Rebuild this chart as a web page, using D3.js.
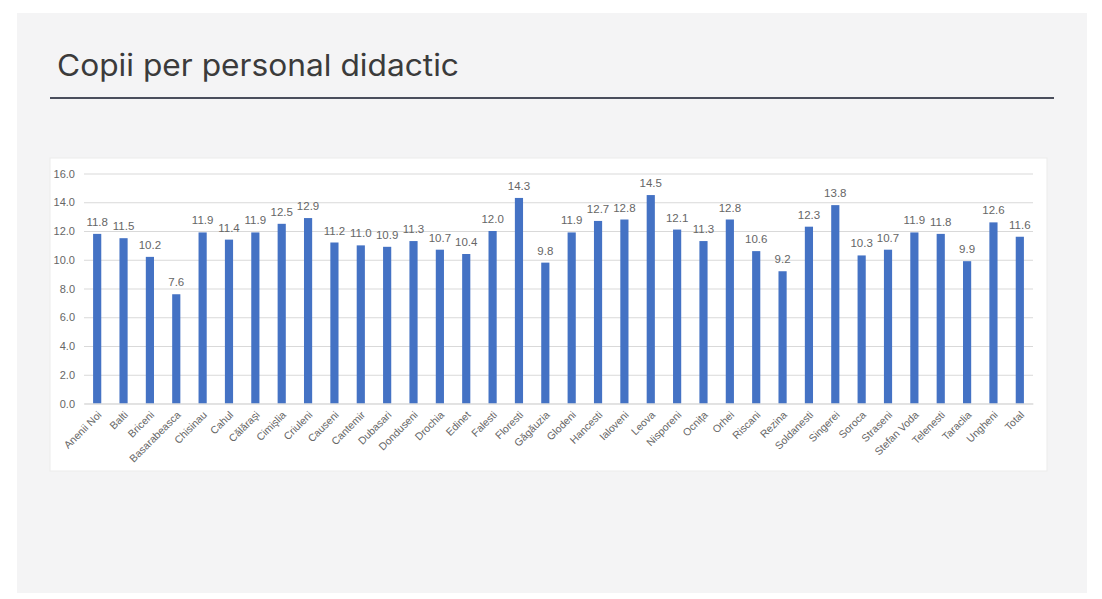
<!DOCTYPE html>
<html>
<head>
<meta charset="utf-8">
<script src="https://cdn.jsdelivr.net/npm/d3@7"></script>
<style>
  body { margin: 0; background: #ffffff; }
</style>
</head>
<body>
<div id="chart"></div>
<script>
var width = 1102;
var height = 599;

var districts = ["Anenii Noi", "Balti", "Briceni", "Basarabeasca", "Chisinau", "Cahul", "Călăraşi",
  "Cimişlia", "Criuleni", "Causeni", "Cantemir", "Dubasari", "Donduseni", "Drochia", "Edinet",
  "Falesti", "Floresti", "Găgăuzia", "Glodeni", "Hancesti", "Ialoveni", "Leova", "Nisporeni",
  "Ocnița", "Orhei", "Riscani", "Rezina", "Soldanesti", "Singerei", "Soroca", "Straseni",
  "Stefan Voda", "Telenesti", "Taraclia", "Ungheni", "Total"];

var ratios = [11.8, 11.5, 10.2, 7.6, 11.9, 11.4, 11.9, 12.5, 12.9, 11.2, 11.0, 10.9, 11.3, 10.7,
  10.4, 12.0, 14.3, 9.8, 11.9, 12.7, 12.8, 14.5, 12.1, 11.3, 12.8, 10.6, 9.2, 12.3, 13.8, 10.3,
  10.7, 11.9, 11.8, 9.9, 12.6, 11.6];

var yTicks = [0, 2, 4, 6, 8, 10, 12, 14, 16];

var title = "Copii per personal didactic";

var svg = d3.select("#chart")
  .append("svg")
  .attr("width", width)
  .attr("height", height);

// grey slide panel
svg.append("rect")
  .attr("x", 17).attr("y", 13)
  .attr("width", 1070).attr("height", 580)
  .attr("fill", "#f4f4f5");

svg.append("text")
  .attr("x", 57)
  .attr("y", 76)
  .text(title)
  .attr("fill", "#3b3b3b")
  .attr("textLength", 402)
  .attr("lengthAdjust", "spacingAndGlyphs")
  .style("font-family", "Inter, 'Open Sans', sans-serif")
  .style("font-size", "30px");

svg.append("line")
  .attr("x1", 50).attr("x2", 1054)
  .attr("y1", 98).attr("y2", 98)
  .attr("stroke", "#4a4e5c")
  .attr("stroke-width", 2);

// white chart image
svg.append("rect")
  .attr("x", 50).attr("y", 158)
  .attr("width", 997).attr("height", 313)
  .attr("fill", "#ffffff")
  .attr("stroke", "#ebebeb")
  .attr("stroke-width", 1);

var x = d3.scaleBand()
  .domain(districts)
  .range([84, 1033])
  .paddingInner(0.69)
  .paddingOuter(0.345);

var y = d3.scaleLinear()
  .domain([0, 16])
  .range([403.5, 173.5]);

var chartFont = "'Liberation Sans', Arial, sans-serif";
var labelGrey = "#666666";

// gridlines + y labels
var yAxis = svg.append("g")
  .attr("transform", "translate(84,0)")
  .call(d3.axisLeft(y).tickValues(yTicks).tickSize(-949).tickFormat(d3.format(".1f")).tickPadding(9));
yAxis.select(".domain").remove();
yAxis.selectAll(".tick line").attr("stroke", "#d9d9d9").attr("stroke-width", 1);
yAxis.selectAll(".tick text")
  .attr("fill", labelGrey)
  .style("font-family", chartFont)
  .style("font-size", "11px");

// bars
svg.append("g")
  .selectAll("rect")
  .data(districts)
  .join("rect")
  .attr("x", d => x(d))
  .attr("width", x.bandwidth())
  .attr("y", (d, i) => y(ratios[i]))
  .attr("height", (d, i) => y(0) - y(ratios[i]))
  .attr("fill", "#4472c4");

// value labels
svg.append("g")
  .selectAll("text")
  .data(districts)
  .join("text")
  .attr("x", d => x(d) + x.bandwidth() / 2)
  .attr("y", (d, i) => y(ratios[i]) - 8)
  .attr("text-anchor", "middle")
  .text((d, i) => d3.format(".1f")(ratios[i]))
  .attr("fill", labelGrey)
  .style("font-family", chartFont)
  .style("font-size", "11.5px");

// category labels
var xAxis = svg.append("g")
  .attr("transform", "translate(0," + y(0) + ")")
  .call(d3.axisBottom(x).tickSize(0).tickPadding(0));
xAxis.select(".domain").attr("stroke", "#d9d9d9");
xAxis.selectAll(".tick text")
  .attr("text-anchor", "end")
  .attr("dy", 0)
  .attr("transform", "translate(5,12) rotate(-45)")
  .attr("fill", labelGrey)
  .style("font-family", chartFont)
  .style("font-size", "10.5px");
</script>
</body>
</html>
